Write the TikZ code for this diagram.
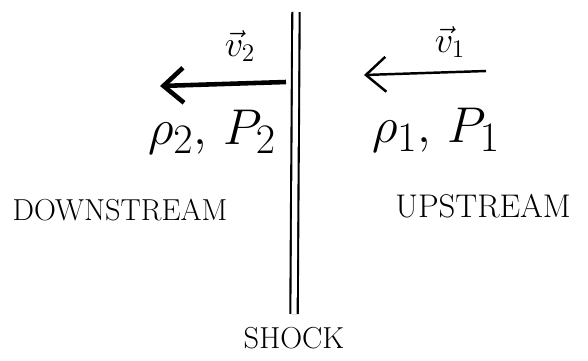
\documentclass[tikz,border=0pt]{standalone}
\usepackage{amsmath, amssymb}
\usepackage{tikz}
\usetikzlibrary{arrows.meta}

\begin{document}
\begin{tikzpicture}[x=0.02cm, y=-0.02cm, every node/.style={font=\Large}]
  \useasboundingbox (0,0) rectangle (588,360);
  % shock front
  \coordinate (shocktop) at (296,12);
  \coordinate (shockbot) at (294,314);
  \draw[double, double distance=3pt, line width=1.2pt] (shocktop) -- (shockbot);
  \node[font=\LARGE] (shock) at (294,338) {SHOCK};
  % flow velocities
  \coordinate (vtwoS) at (286,82);
  \coordinate (vtwoE) at (160,86);
  \draw[-{Straight Barb[length=4mm, width=7mm]}, line width=2.6pt] (vtwoS) -- (vtwoE);
  \node[font=\huge] (vtwo) at (240,46) {$\vec{v}_2$};
  \coordinate (voneS) at (486,71);
  \coordinate (voneE) at (364,75);
  \draw[-{Straight Barb[length=4mm, width=7mm]}, line width=1.4pt] (voneS) -- (voneE);
  \node[font=\huge] (vone) at (450,42) {$\vec{v}_1$};
  % states
  \node[font=\Huge, scale=1.15] (downstate) at (212,132) {$\rho_2,\, P_2$};
  \node[font=\Huge, scale=1.15] (upstate) at (436,130) {$\rho_1,\, P_1$};
  \node[font=\LARGE] (down) at (120,210) {DOWNSTREAM};
  \node[font=\LARGE, scale=1.08] (up) at (483,206) {UPSTREAM};
\end{tikzpicture}
\end{document}
